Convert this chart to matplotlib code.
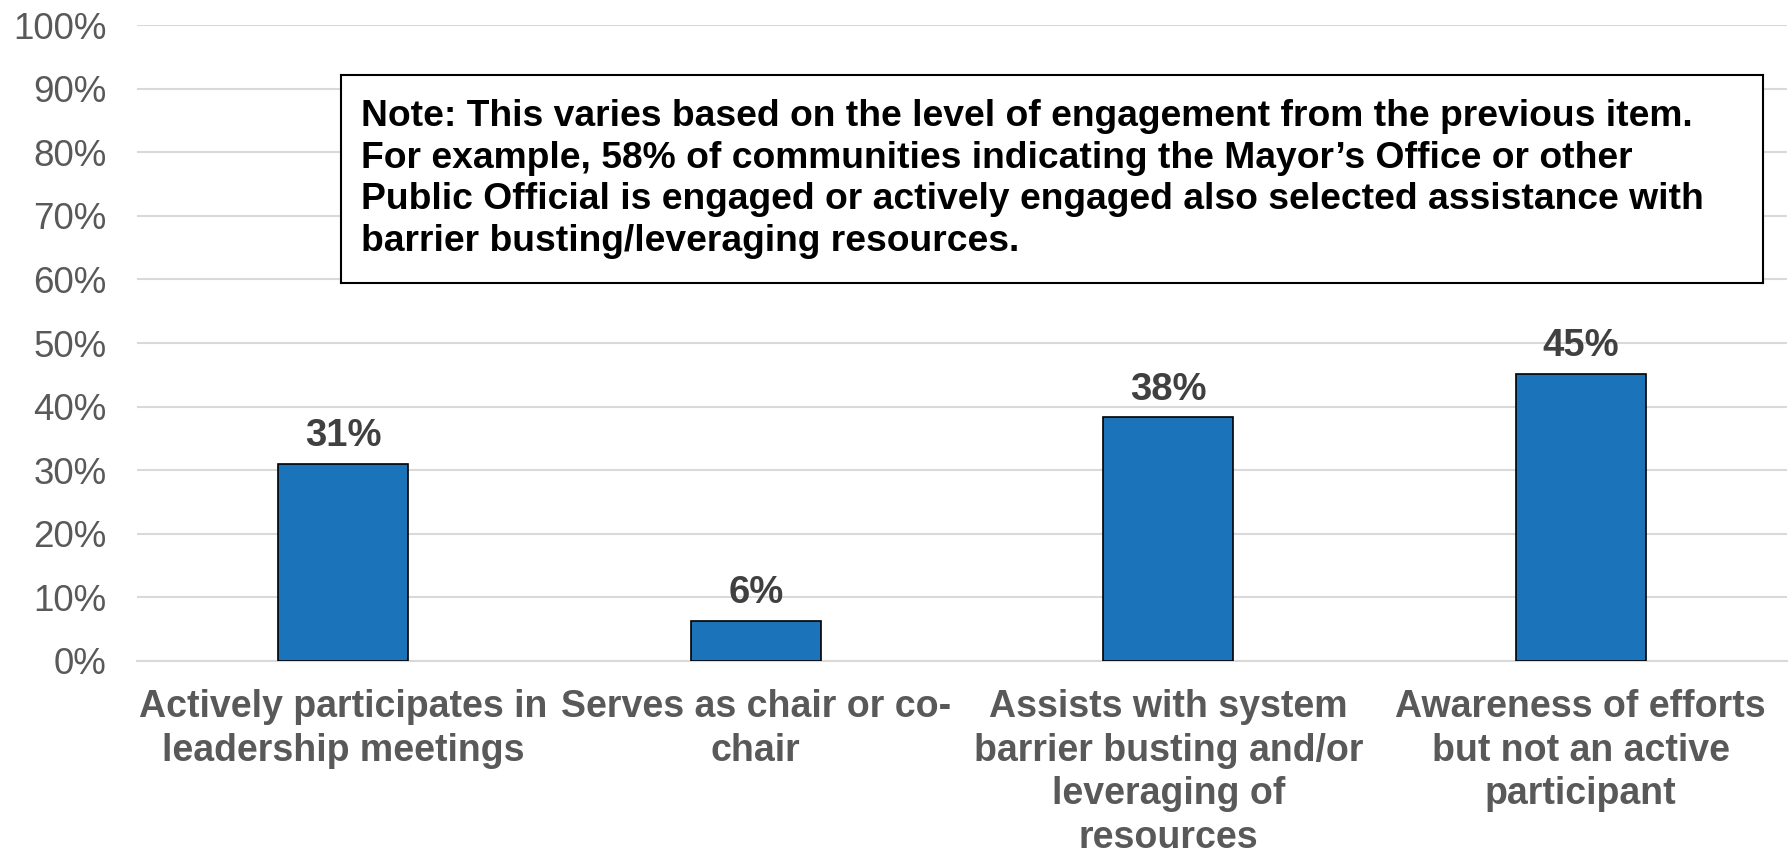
import matplotlib
matplotlib.use("Agg")
import matplotlib.pyplot as plt
from matplotlib.ticker import PercentFormatter

categories = [
    "Actively participates in\nleadership meetings",
    "Serves as chair or co-\nchair",
    "Assists with system\nbarrier busting and/or\nleveraging of\nresources",
    "Awareness of efforts\nbut not an active\nparticipant",
]
values = [0.31, 0.063, 0.383, 0.452]
labels = ["31%", "6%", "38%", "45%"]
yticks = [0, 0.1, 0.2, 0.3, 0.4, 0.5, 0.6, 0.7, 0.8, 0.9, 1.0]
note = ("Note: This varies based on the level of engagement from the previous item.\n"
        "For example, 58% of communities indicating the Mayor\u2019s Office or other\n"
        "Public Official is engaged or actively engaged also selected assistance with\n"
        "barrier busting/leveraging resources.")

plt.rcParams['font.family'] = ['Liberation Sans', 'DejaVu Sans']

W, H = 1791, 851
fig = plt.figure(figsize=(W / 100, H / 100), dpi=100)
ax = fig.add_axes([137 / W, (H - 661) / H, (1787 - 137) / W, (661 - 25) / H])

x = list(range(len(categories)))
bars = ax.bar(x, values, width=0.315, color="#1B74BA", edgecolor="black",
              linewidth=1.2, zorder=3)
for b, lab in zip(bars, labels):
    ax.annotate(lab, (b.get_x() + b.get_width() / 2, b.get_height()),
                xytext=(0, 7), textcoords="offset points", ha="center",
                va="bottom", fontsize=27.5, fontweight="bold", color="#404040")

ax.set_xlim(-0.5, len(categories) - 0.5)
ax.set_ylim(0, 1.0)
ax.set_yticks(yticks)
ax.yaxis.set_major_formatter(PercentFormatter(1.0, decimals=0))
ax.set_xticks(x)
ax.set_xticklabels(categories, fontsize=27, fontweight="bold", color="#595959",
                   linespacing=1.28)
ax.tick_params(axis="y", labelsize=26.5, labelcolor="#595959", length=0, pad=22)
ax.tick_params(axis="x", length=0, pad=20)
ax.grid(axis="y", color="#D9D9D9", linewidth=1.5, zorder=0)
for s in ["top", "right", "left"]:
    ax.spines[s].set_visible(False)
ax.spines["bottom"].set_color("#D9D9D9")
ax.spines["bottom"].set_linewidth(1.5)

box_ax = fig.add_axes([341 / W, (H - 283) / H, (1763 - 341) / W, (283 - 75) / H])
box_ax.set_xticks([])
box_ax.set_yticks([])
for s in box_ax.spines.values():
    s.set_linewidth(1.5)
    s.set_color("black")
box_ax.text(20 / (1763 - 341), 0.5, note, transform=box_ax.transAxes,
            ha="left", va="center", fontsize=26.8, fontweight="bold",
            color="black", linespacing=1.24)

fig.savefig("out.png", dpi=100)
